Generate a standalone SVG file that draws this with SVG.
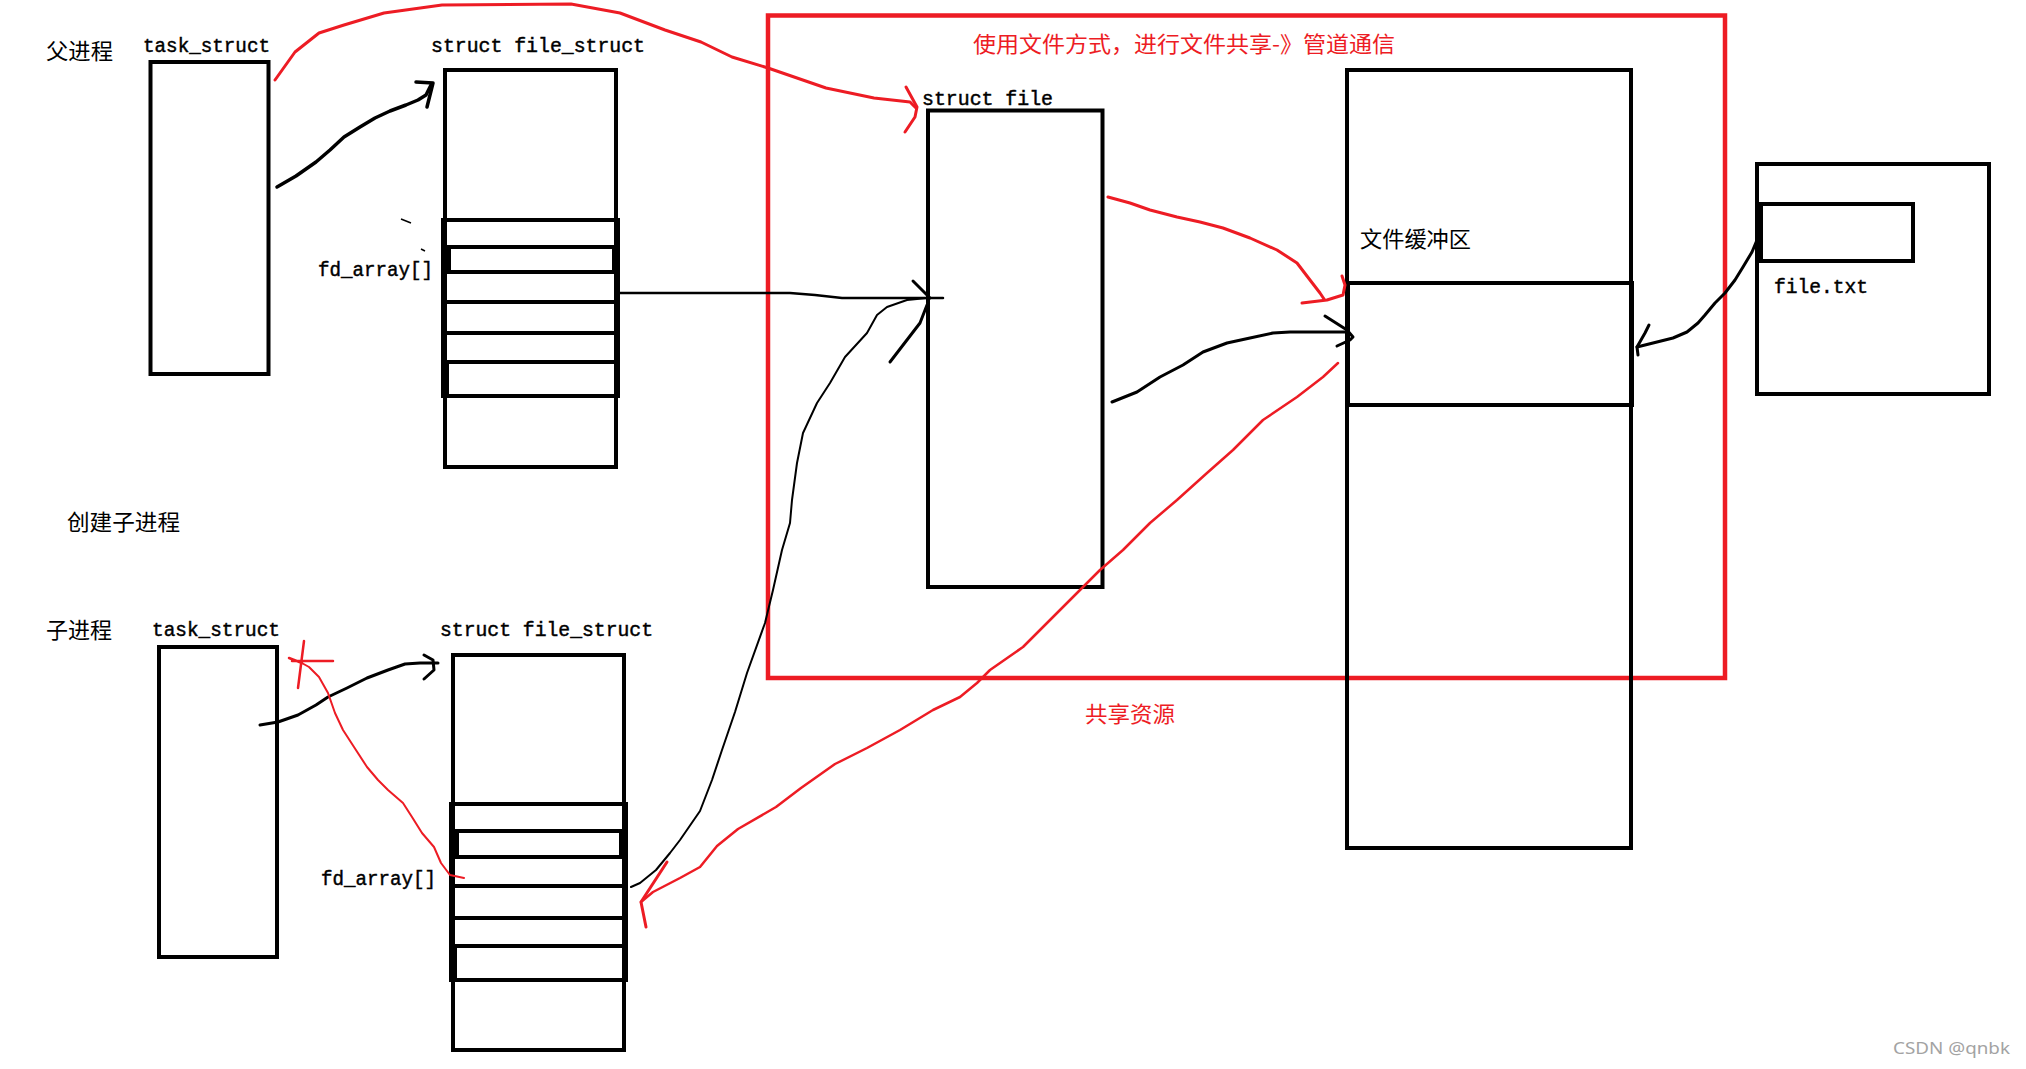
<svg xmlns="http://www.w3.org/2000/svg" width="2026" height="1069" viewBox="0 0 2026 1069">
<style>
.bx{fill:none;stroke:#000;stroke-width:4}
.ln{fill:none;stroke:#000;stroke-width:4}
.mono{font-family:"Liberation Mono","DejaVu Sans Mono",monospace;font-size:20px;fill:#000;stroke:#000;stroke-width:0.45}
.cjk{font-family:"Noto Sans CJK SC","Noto Sans",sans-serif;font-size:22px;fill:#000}
.red{fill:#ED1C24}
.ck{fill:none;stroke:#000;stroke-linejoin:round;stroke-linecap:round}
.cr{fill:none;stroke:#ED1C24;stroke-linejoin:round;stroke-linecap:round}
</style>
<rect width="2026" height="1069" fill="#fff"/>

<g id="shared-box">
<rect x="768" y="15.5" width="957" height="662.5" fill="none" stroke="#ED1C24" stroke-width="4.5"/>
<text class="cjk red" x="973" y="52" textLength="422" lengthAdjust="spacingAndGlyphs">使用文件方式，进行文件共享-》管道通信</text>
<text class="cjk red" x="1085" y="722" textLength="90" lengthAdjust="spacingAndGlyphs">共享资源</text>
</g>

<g id="parent-label">
<text class="cjk" x="46" y="59" textLength="67" lengthAdjust="spacingAndGlyphs">父进程</text>
</g>

<g id="parent-task">
<text class="mono" x="143" y="52" textLength="127" lengthAdjust="spacingAndGlyphs">task_struct</text>
<rect class="bx" x="150.5" y="62" width="118" height="312"/>
</g>

<g id="parent-files">
<text class="mono" x="431" y="52" textLength="214" lengthAdjust="spacingAndGlyphs">struct file_struct</text>
<text class="mono" x="318" y="276" textLength="115" lengthAdjust="spacingAndGlyphs">fd_array[]</text>
<rect class="bx" x="445" y="70" width="171" height="397"/>
<rect class="bx" x="443" y="220" width="175" height="176" stroke-width="4.5"/>
<path class="ln" d="M443,247H618M443,272H618M443,302H618M443,333H618M443,362H618"/>
<rect class="bx" x="449" y="247" width="165" height="25"/>
<rect class="bx" x="447" y="362" width="170" height="34"/>
<path d="M401,219L411,223M421,249L425,251" stroke="#000" stroke-width="1.5"/>
</g>

<g id="create-child-label">
<text class="cjk" x="67" y="530" textLength="113" lengthAdjust="spacingAndGlyphs">创建子进程</text>
</g>

<g id="child-label">
<text class="cjk" x="46" y="638" textLength="66" lengthAdjust="spacingAndGlyphs">子进程</text>
</g>

<g id="child-task">
<text class="mono" x="152" y="636" textLength="128" lengthAdjust="spacingAndGlyphs">task_struct</text>
<rect class="bx" x="159" y="647" width="118" height="310"/>
</g>

<g id="child-files">
<text class="mono" x="440" y="636" textLength="213" lengthAdjust="spacingAndGlyphs">struct file_struct</text>
<text class="mono" x="321" y="885" textLength="115" lengthAdjust="spacingAndGlyphs">fd_array[]</text>
<rect class="bx" x="453" y="655" width="171" height="395"/>
<rect class="bx" x="451" y="804" width="175" height="176" stroke-width="4.5"/>
<path class="ln" d="M451,831H626M451,857H626M451,886H626M451,918H626M451,946H626"/>
<rect class="bx" x="457" y="831" width="164" height="26"/>
<rect class="bx" x="455" y="946" width="170" height="34"/>
</g>

<g id="struct-file">
<text class="mono" x="922" y="105" textLength="131" lengthAdjust="spacingAndGlyphs">struct file</text>
<rect class="bx" x="928" y="110.5" width="174.5" height="476.5"/>
</g>

<g id="file-buffer">
<rect class="bx" x="1347" y="70" width="284" height="778"/>
<rect class="bx" x="1348" y="283" width="284" height="122" stroke-width="5"/>
<text class="cjk" x="1360" y="247" textLength="111" lengthAdjust="spacingAndGlyphs">文件缓冲区</text>
</g>

<g id="file-txt">
<rect class="bx" x="1757" y="164" width="232" height="230"/>
<rect class="bx" x="1761" y="204" width="152" height="57"/>
<path d="M1759,204V261" stroke="#000" stroke-width="6"/>
<text class="mono" x="1774" y="293" textLength="94" lengthAdjust="spacingAndGlyphs">file.txt</text>
</g>

<g id="watermark">
<text x="1893" y="1054" font-family="'Noto Sans','Open Sans',sans-serif" font-size="17" fill="#a3a3a3" textLength="117" lengthAdjust="spacingAndGlyphs">CSDN @qnbk</text>
</g>

<g id="connectors">
<path class="ck" stroke-width="3.5" d="M277,187L296,176L316,162L330,150L344,137L360,127L375,118L390,111L406,105L418,100L426,95L431,85"/>
<path class="ck" stroke-width="3.5" d="M416,82L433,83L427,107"/>
<path class="ck" stroke-width="3" d="M260,725L278,722L298,715L316,705L328,697L347,688L367,678L388,670L405,664L420,663L438,663"/>
<path class="ck" stroke-width="3" d="M424,655L433,660L434,670L424,679"/>
<path class="ck" stroke-width="2.5" d="M616,293L790,293L815,295L842,298L943,298"/>
<path class="ck" stroke-width="3" d="M913,281L930,298"/>
<path class="ck" stroke-width="2" d="M631,887L640,883L656,870L670,853L680,840L700,811L712,780L722,750L735,712L747,673L765,623L773,590L782,550L790,523L792,500L797,463L803,433L817,403L830,383L845,357L867,333L877,315L887,307L907,300L927,298"/>
<path class="ck" stroke-width="3" d="M890,362L920,323L927,305"/>
<path class="ck" stroke-width="3" d="M1112,402L1137,392L1160,377L1183,365L1203,352L1227,343L1250,338L1273,333L1290,332L1347,332"/>
<path class="ck" stroke-width="3" d="M1325,316L1347,330L1353,337L1350,340L1337,346"/>
<path class="ck" stroke-width="3" d="M1757,240L1752,252L1743,267L1735,280L1725,293L1715,303L1705,315L1698,323L1687,332L1673,338L1653,343L1637,347"/>
<path class="ck" stroke-width="3" d="M1649,325L1645,333L1637,347L1638,355"/>
<path class="cr" stroke-width="3" d="M275,80L295,52L319,33L344,25L384,13L442,5L571,4L620,13L665,30L701,42L732,57L768,68L826,88L874,98L910,102L916,108"/>
<path class="cr" stroke-width="3" d="M906,87L917,107L915,117L905,132"/>
<path class="cr" stroke-width="3" d="M1108,197L1130,203L1150,210L1177,217L1200,222L1223,228L1250,238L1277,250L1297,263L1310,280L1320,293L1324,299"/>
<path class="cr" stroke-width="3" d="M1302,303L1327,300L1343,295L1345,285L1342,276"/>
<path class="cr" stroke-width="2.5" d="M1338,363L1323,377L1297,397L1263,420L1233,450L1207,473L1177,500L1150,523L1123,550L1100,570L1083,587L1053,617L1023,647L990,670L977,683L960,697L933,710L900,730L867,748L835,764L801,788L776,807L738,829L717,846L700,867L680,878L653,892L641,902"/>
<path class="cr" stroke-width="3" d="M667,862L641,902L646,927"/>
<path class="cr" stroke-width="2" d="M464,878L450,875L441,863L434,847L422,833L412,817L403,803L388,790L378,780L367,767L354,747L343,730L335,713L328,693L319,677L309,667L300,662"/>
<path class="cr" stroke-width="2.5" d="M292,661L333,661M304,641L298,688M289,658L302,663"/>
</g>
</svg>
